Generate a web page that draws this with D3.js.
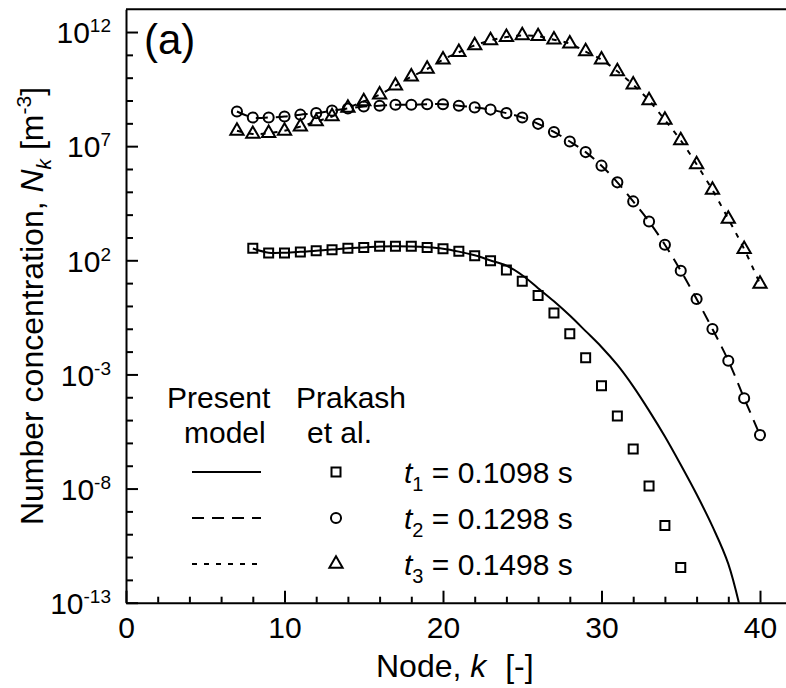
<!DOCTYPE html>
<html>
<head>
<meta charset="utf-8">
<script src="https://cdn.jsdelivr.net/npm/d3@7"></script>
<style>
  body { margin: 0; background: #fff; }
  svg text { font-family: "Liberation Sans", Arial, sans-serif; fill: #000; }
  .axis path, .axis line { stroke: #000; stroke-width: 2; }
</style>
</head>
<body>
<svg id="chart" width="786" height="688"></svg>
<script>
// ---- data ----
// Prakash et al. reference points
var nodesT1 = [8,9,10,11,12,13,14,15,16,17,18,19,20,21,22,23,24,25,26,27,28,29,30,31,32,33,34,35];
var prakashT1 = [340,210,210,230,260,290,340,360,410,410,410,360,320,250,160,95,38,12,2.9,0.49,0.060,5.4e-3,3.2e-4,1.5e-5,5.4e-7,1.3e-8,2.4e-10,3.5e-12];

var nodesT2 = [7,8,9,10,11,12,13,14,15,16,17,18,19,20,21,22,23,24,25,26,27,28,29,30,31,32,33,34,35,36,37,38,39,40];
var prakashT2 = [3.3e8,1.8e8,1.8e8,2.0e8,2.4e8,2.8e8,3.6e8,4.5e8,5.5e8,5.9e8,6.5e8,6.5e8,6.9e8,6.9e8,5.9e8,5.0e8,4.0e8,2.8e8,1.8e8,9.5e7,4.2e7,1.6e7,5.5e6,1.4e6,2.6e5,3.8e4,5.0e3,4.8e2,35,2.0,9.8e-2,4.0e-3,9.1e-5,2.2e-6];

var nodesT3 = [7,8,9,10,11,12,13,14,15,16,17,18,19,20,21,22,23,24,25,26,27,28,29,30,31,32,33,34,35,36,37,38,39,40];
var prakashT3 = [4.7e7,3.4e7,3.7e7,4.7e7,7.2e7,1.2e8,2.0e8,4.7e8,9.1e8,1.8e9,4.5e9,1.1e10,2.4e10,6.2e10,1.3e11,2.6e11,4.3e11,6.0e11,7.1e11,6.5e11,4.6e11,3.1e11,1.4e11,6.2e10,1.9e10,4.9e9,1.0e9,1.4e8,1.8e7,1.6e6,1.2e5,6.5e3,3.1e2,9.3];

// present model, t1 (t2 and t3 model curves run through the reference points)
var modelNodesT1 = [8,9,10,11,12,13,14,15,16,17,18,19,20,21,22,23,24,25,26,27,28,29,30,31,32,33,34,35,36,37,38,39];
var modelT1 = [330,215,215,235,265,295,340,365,400,410,400,370,320,240,165,98,58,22,6.0,1.6,0.38,0.079,0.016,2.6e-3,3.0e-4,2.6e-5,1.9e-6,1.1e-7,5.6e-9,2.2e-10,5.0e-12,1.0e-14];

var xMajorTicks = [0,10,20,30,40];
var yMajorTicks = [1e12,1e7,1e2,1e-3,1e-8,1e-13];
var legendLabels = [["1","0.1098"],["2","0.1298"],["3","0.1498"]];

// ---- layout ----
var svg = d3.select("#chart");
var plot = { left:126, right:791.7, top:9.2, bottom:602.7 };

var x = d3.scaleLinear().domain([0, 42]).range([plot.left, plot.right]);
var y = d3.scaleLog().domain([1e-13, 1e13]).range([plot.bottom, plot.top]);

svg.append("defs").append("clipPath").attr("id", "clip")
   .append("rect")
   .attr("x", plot.left).attr("y", plot.top)
   .attr("width", plot.right - plot.left).attr("height", plot.bottom - plot.top);

// top frame
svg.append("line")
   .attr("x1", x(0)).attr("x2", x(42))
   .attr("y1", y(1e13)).attr("y2", y(1e13))
   .attr("stroke", "#000").attr("stroke-width", 2);

// x axis
var xMinor = d3.range(2, 42, 2).filter(function(d) { return d % 10 != 0; });
svg.append("g").attr("class", "axis")
   .attr("transform", "translate(0," + plot.bottom + ")")
   .call(d3.axisBottom(x).tickValues(xMinor).tickSize(-6).tickFormat(""))
   .call(function(g) { g.select(".domain").remove(); });
var xAxis = svg.append("g").attr("class", "axis")
   .attr("transform", "translate(0," + plot.bottom + ")")
   .call(d3.axisBottom(x).tickValues(xMajorTicks).tickSizeInner(-12).tickSizeOuter(0).tickPadding(14));
xAxis.selectAll("text").style("font-size", "30px").attr("font-family", null);

// y axis
var yMinor = d3.range(-12, 13).map(function(e) { return Math.pow(10, e); })
               .filter(function(v) { return yMajorTicks.indexOf(v) < 0; });
svg.append("g").attr("class", "axis")
   .attr("transform", "translate(" + plot.left + ",0)")
   .call(d3.axisLeft(y).tickValues(yMinor).tickSize(-7).tickFormat(""))
   .call(function(g) { g.select(".domain").remove(); });
var yAxis = svg.append("g").attr("class", "axis")
   .attr("transform", "translate(" + plot.left + ",0)")
   .call(d3.axisLeft(y).tickValues(yMajorTicks).tickSizeInner(-12).tickSizeOuter(0).tickPadding(15));
yAxis.selectAll("text")
   .attr("font-family", null)
   .attr("dy", "0.36em")
   .style("font-size", "30px")
   .each(function(d) {
     var t = d3.select(this).text(null);
     var e = Math.round(Math.log10(d));
     t.append("tspan").text("10");
     t.append("tspan").attr("dy", -11).style("font-size", "19px").text(String(e));
   });

// ---- series ----
var series = [
  { k: nodesT1, v: prakashT1, mk: modelNodesT1, mv: modelT1, sym: d3.symbolSquare, size: 81, dash: null },
  { k: nodesT2, v: prakashT2, mk: nodesT2, mv: prakashT2, sym: d3.symbolCircle, size: 80, dash: "12,8" },
  { k: nodesT3, v: prakashT3, mk: nodesT3, mv: prakashT3, sym: d3.symbolTriangle, size: 76, dash: "5,7" }
];

var line = d3.line()
   .x(function(d) { return x(d[0]); })
   .y(function(d) { return y(d[1]); })
   .curve(d3.curveCatmullRom);

var lines_g = svg.append("g").attr("clip-path", "url(#clip)");
series.forEach(function(s) {
  lines_g.append("path")
     .datum(d3.zip(s.mk, s.mv))
     .attr("d", line)
     .attr("fill", "none")
     .attr("stroke", "#000")
     .attr("stroke-width", 2)
     .attr("stroke-dasharray", s.dash);
});

series.forEach(function(s) {
  svg.append("g").selectAll("path")
     .data(d3.zip(s.k, s.v))
     .enter()
     .append("path")
     .attr("transform", function(d) { return "translate(" + x(d[0]) + "," + y(d[1]) + ")"; })
     .attr("d", d3.symbol().type(s.sym).size(s.size))
     .attr("fill", "none")
     .attr("stroke", "#000")
     .attr("stroke-width", 2);
});

// ---- legend ----
var leg = { lineX1:192, lineX2:261, markX:336, textX:404, row0:472, rowStep:46 };
svg.append("text").attr("x", 167).attr("y", 408).style("font-size", "30px").text("Present");
svg.append("text").attr("x", 184).attr("y", 443).style("font-size", "30px").text("model");
svg.append("text").attr("x", 296).attr("y", 408).style("font-size", "30px").text("Prakash");
svg.append("text").attr("x", 307).attr("y", 443).style("font-size", "30px").text("et al.");

series.forEach(function(s, i) {
  var yy = leg.row0 + leg.rowStep * i;
  svg.append("line")
     .attr("x1", leg.lineX1).attr("x2", leg.lineX2)
     .attr("y1", yy).attr("y2", yy)
     .attr("stroke", "#000").attr("stroke-width", 2)
     .attr("stroke-dasharray", s.dash);
  svg.append("path")
     .attr("transform", "translate(" + leg.markX + "," + yy + ")")
     .attr("d", d3.symbol().type(s.sym).size(s.size))
     .attr("fill", "none").attr("stroke", "#000").attr("stroke-width", 2);
  var t = svg.append("text").attr("x", leg.textX).attr("y", yy + 11).style("font-size", "30px");
  t.append("tspan").style("font-style", "italic").text("t");
  t.append("tspan").attr("dy", 8).style("font-size", "20px").text(legendLabels[i][0]);
  t.append("tspan").attr("dy", -8).text(" = " + legendLabels[i][1] + " s");
});

// ---- titles ----
svg.append("text").attr("x", 144).attr("y", 54).style("font-size", "42px").text("(a)");

var xt = svg.append("text").attr("x", 376).attr("y", 677).style("font-size", "32px");
xt.append("tspan").text("Node, ");
xt.append("tspan").style("font-style", "italic").text("k");
xt.append("tspan").attr("dx", 10).text(" [-]");

var yt = svg.append("text")
   .attr("transform", "translate(43,306) rotate(-90)")
   .attr("text-anchor", "middle")
   .style("font-size", "32px");
yt.append("tspan").text("Number concentration, ");
yt.append("tspan").style("font-style", "italic").text("N");
yt.append("tspan").attr("dy", 8).style("font-size", "21px").style("font-style", "italic").text("k");
yt.append("tspan").attr("dy", -8).text(" [m");
yt.append("tspan").attr("dy", -12).style("font-size", "21px").text("-3");
yt.append("tspan").attr("dy", 12).text("]");
</script>
</body>
</html>
